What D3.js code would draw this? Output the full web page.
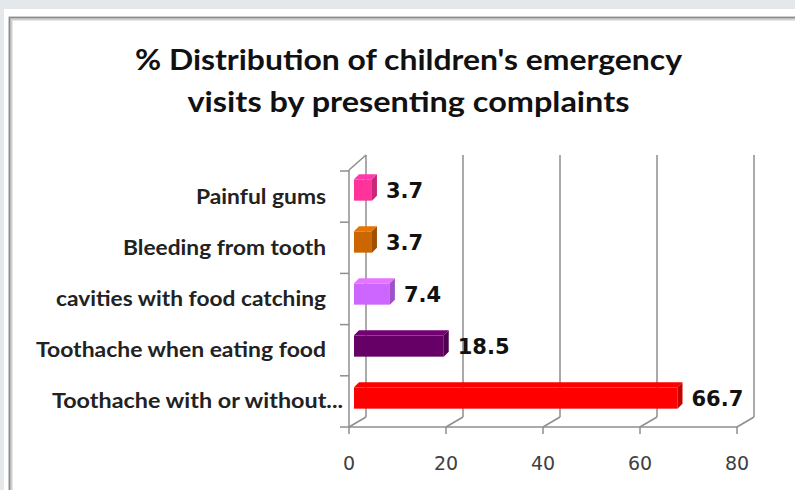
<!DOCTYPE html>
<html>
<head>
<meta charset="utf-8">
<script src="https://cdn.jsdelivr.net/npm/d3@7"></script>
<style>
  html, body { margin: 0; padding: 0; background: #e4e8ea; }
  svg { display: block; }
</style>
</head>
<body>
<script>
// ---- data ----
const categories = ["Painful gums", "Bleeding from tooth", "cavities with food catching", "Toothache when eating food", "Toothache with or without..."];
const values = [3.7, 3.7, 7.4, 18.5, 66.7];
const valueLabels = ["3.7", "3.7", "7.4", "18.5", "66.7"];
const xTicks = [0, 20, 40, 60, 80];
const titleLines = ["% Distribution of children's emergency", "visits by presenting complaints"];

// ---- styling ----
const frontColors = ["#ff3399", "#cc6600", "#cc66ff", "#660066", "#ff0000"];
const W = 795, H = 490;
const svg = d3.select("body").append("svg").attr("width", W).attr("height", H);

// background panel
svg.append("rect").attr("x", 4).attr("y", 9).attr("width", W).attr("height", H).attr("fill", "#ffffff");
svg.append("path").attr("d", "M10.5,500 V18.5 H800").attr("fill", "none").attr("stroke", "#cfcfcf").attr("stroke-width", 4);
svg.append("path").attr("d", "M9.5,500 V17.5 H800").attr("fill", "none").attr("stroke", "#8c8c8c").attr("stroke-width", 1.6);

// title
const tFont = "Lato, 'Open Sans', sans-serif";
const titleWidths = [547, 442];
titleLines.forEach((t, i) => {
  svg.append("text").attr("x", 408.5).attr("y", 70 + i * 42)
    .attr("text-anchor", "middle").attr("font-family", tFont).attr("font-weight", 700)
    .attr("font-size", 29).attr("fill", "#111")
    .attr("textLength", titleWidths[i]).attr("lengthAdjust", "spacingAndGlyphs")
    .text(t);
});

// ---- scales ----
const xFront = d3.scaleLinear().domain([0, 80]).range([349, 737]);
const xBack = d3.scaleLinear().domain([0, 80]).range([366, 754]);
const xBar = d3.scaleLinear().domain([0, 80]).range([354, 742]);
const yFront = d3.scaleBand().domain(categories).range([171, 427]);
const yBar = d3.scaleBand().domain(categories).range([164, 424]).paddingInner(0.59).paddingOuter(0.295);
const backTop = 155, backBottom = 417, frontTopY = 170;

const grid = svg.append("g").attr("stroke", "#8e8e8e").attr("stroke-width", 1.5).attr("fill", "none");
grid.selectAll("line.back").data(xTicks).join("line")
  .attr("x1", d => xBack(d)).attr("x2", d => xBack(d))
  .attr("y1", backTop).attr("y2", backBottom);
grid.selectAll("line.floor").data(xTicks).join("line")
  .attr("x1", d => xBack(d)).attr("y1", backBottom)
  .attr("x2", d => xFront(d)).attr("y2", yFront.range()[1]);
grid.append("line").attr("x1", xFront(0)).attr("x2", xFront(80))
  .attr("y1", yFront.range()[1]).attr("y2", yFront.range()[1]);
grid.append("line").attr("x1", xFront(0)).attr("x2", xFront(0)).attr("y1", frontTopY).attr("y2", yFront.range()[1]);
grid.append("line").attr("x1", xFront(0)).attr("y1", frontTopY).attr("x2", xBack(0)).attr("y2", backTop);
grid.selectAll("line.tx").data(xTicks).join("line")
  .attr("x1", d => xFront(d)).attr("x2", d => xFront(d))
  .attr("y1", yFront.range()[1]).attr("y2", yFront.range()[1] + 7);
const bounds = categories.map(c => yFront(c)).concat([yFront.range()[1]]);
grid.selectAll("line.ty").data(bounds).join("line")
  .attr("x1", xFront(0) - 9).attr("x2", xFront(0))
  .attr("y1", d => d).attr("y2", d => d);

// ---- bars (3D) ----
const dx = 5, dy = -5;
const bars = svg.append("g");
categories.forEach((c, i) => {
  const x0 = xBar(0), x1 = xBar(values[i]);
  const y0 = yBar(c), h = yBar.bandwidth();
  const col = d3.color(frontColors[i]);
  const g = bars.append("g");
  g.append("rect").attr("x", x0).attr("y", y0).attr("width", x1 - x0).attr("height", h).attr("fill", col.formatHex());
  g.append("path")
    .attr("d", `M${x0},${y0} L${x0 + dx},${y0 + dy} L${x1 + dx},${y0 + dy} L${x1},${y0} Z`)
    .attr("fill", col.brighter(0.35).formatHex());
  g.append("path")
    .attr("d", `M${x1},${y0} L${x1 + dx},${y0 + dy} L${x1 + dx},${y0 + h + dy} L${x1},${y0 + h} Z`)
    .attr("fill", col.darker(0.7).formatHex());
  svg.append("text").attr("x", x1 + dx + 9).attr("y", y0 + h / 2 + 8)
    .attr("font-family", "'DejaVu Sans', Verdana, sans-serif").attr("font-weight", 700)
    .attr("font-size", 21).attr("fill", "#111").text(valueLabels[i]);
});

// ---- category labels ----
const labelWidths = [130, 203, 270, 290, 291];
categories.forEach((c, i) => {
  const last = i === categories.length - 1;
  svg.append("text")
    .attr("x", last ? 343 : 326).attr("y", yFront(c) + yFront.bandwidth() / 2 + 7)
    .attr("text-anchor", "end").attr("font-family", tFont).attr("font-weight", 700)
    .attr("font-size", 20).attr("fill", "#222")
    .attr("textLength", labelWidths[i]).attr("lengthAdjust", "spacingAndGlyphs")
    .text(c);
});

// ---- x tick labels ----
svg.selectAll("text.xt").data(xTicks).join("text")
  .attr("x", d => xFront(d)).attr("y", 470)
  .attr("text-anchor", "middle").attr("font-family", "'DejaVu Sans', Verdana, sans-serif")
  .attr("font-size", 19).attr("fill", "#404040").text(d => d);
</script>
</body>
</html>
